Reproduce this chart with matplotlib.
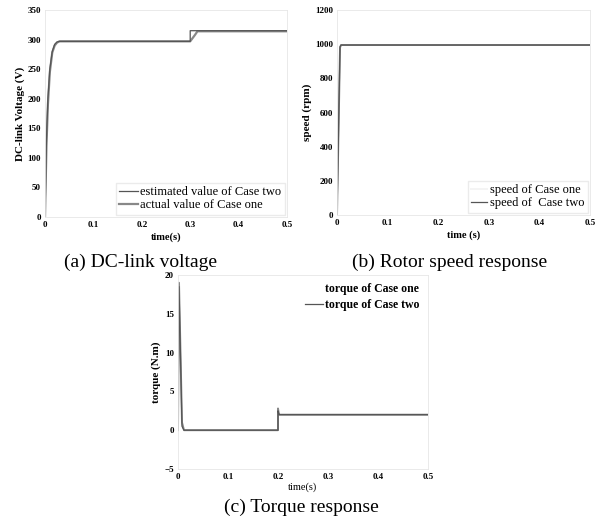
import matplotlib
matplotlib.use("Agg")
import matplotlib.pyplot as plt

plt.rcParams['font.family'] = ['Liberation Serif', 'DejaVu Serif']

# (a) DC-link voltage
t_v_est = [0, 0.003, 0.006, 0.01, 0.015, 0.02, 0.025, 0.03, 0.3, 0.3, 0.5]
v_est = [0, 130, 200, 250, 280, 292, 296, 297, 297, 315, 315]
t_v_act = [0, 0.003, 0.006, 0.01, 0.015, 0.02, 0.025, 0.03, 0.3, 0.31, 0.315, 0.5]
v_act = [0, 120, 190, 245, 278, 290, 295, 297, 297, 308, 314, 314]

# (b) rotor speed
t_s1 = [0, 0.006, 0.008, 0.5]
s1 = [0, 980, 995, 995]
t_s2 = [0, 0.006, 0.008, 0.5]
s2 = [0, 985, 995, 995]

# (c) torque
t_q1 = [0, 0.002, 0.008, 0.012, 0.2, 0.2, 0.202, 0.204, 0.5]
q1 = [0, 19, 1, 0, 0, 2.8, 2.0, 2.0, 2.0]
t_q2 = [0, 0.002, 0.008, 0.012, 0.2, 0.2, 0.202, 0.204, 0.5]
q2 = [0, 18.5, 0.5, 0, 0, 2.5, 2.0, 2.0, 2.0]

W, H = 601, 521
fig = plt.figure(figsize=(W / 100, H / 100), dpi=100)


def ax_px(l, r, t, b):
    return fig.add_axes([l / W, 1 - b / H, (r - l) / W, (b - t) / H])


def style(ax):
    for s in ax.spines.values():
        s.set_color('#e6e6e6')
        s.set_linewidth(0.6)
    ax.tick_params(length=0, labelsize=6.5, pad=3)
    for lab in ax.get_xticklabels() + ax.get_yticklabels():
        lab.set_fontweight('bold')


lc = '#555555'
lc2 = '#888888'

# panel a
ax1 = ax_px(45, 287, 10, 217)
ax1.plot(t_v_act, v_act, color=lc2, lw=1.6, label='actual value of Case one')
ax1.plot(t_v_est, v_est, color=lc, lw=0.9, label='estimated value of Case two')
ax1.set_xlim(0, 0.5)
ax1.set_ylim(0, 350)
ax1.set_xticks([0, 0.1, 0.2, 0.3, 0.4, 0.5])
ax1.set_xticklabels(['0', '0.1', '0.2', '0.3', '0.4', '0.5'])
ax1.set_yticks([0, 50, 100, 150, 200, 250, 300, 350])
ax1.set_ylabel('DC-link Voltage (V)', fontsize=8, fontweight='bold', labelpad=2)
ax1.set_xlabel('time(s)', fontsize=7.5, fontweight='bold', labelpad=2)
h, l = ax1.get_legend_handles_labels()
leg = ax1.legend(h[::-1], l[::-1], loc='lower right', fontsize=9, frameon=True,
                 handlelength=1.5, handletextpad=0.2, borderpad=0.25,
                 labelspacing=0.1, fancybox=False, borderaxespad=0.2)
leg.get_frame().set_edgecolor('#e6e6e6')
style(ax1)

# panel b
ax2 = ax_px(337, 590, 10, 215)
ax2.plot(t_s1, s1, color=lc2, lw=1.4, label='speed of Case one')
ax2.plot(t_s2, s2, color=lc, lw=0.9, label='speed of  Case two')
ax2.set_xlim(0, 0.5)
ax2.set_ylim(0, 1200)
ax2.set_xticks([0, 0.1, 0.2, 0.3, 0.4, 0.5])
ax2.set_xticklabels(['0', '0.1', '0.2', '0.3', '0.4', '0.5'])
ax2.set_yticks([0, 200, 400, 600, 800, 1000, 1200])
ax2.set_ylabel('speed (rpm)', fontsize=8, fontweight='bold', labelpad=2)
ax2.set_xlabel('time (s)', fontsize=7.5, fontweight='bold', labelpad=2)
leg = ax2.legend(loc='lower right', fontsize=9, frameon=True,
                 handlelength=1.3, handletextpad=0.2, borderpad=0.25,
                 labelspacing=0.1, fancybox=False, borderaxespad=0.2)
leg.get_frame().set_edgecolor('#e6e6e6')
leg.get_lines()[0].set_color('#f4f4f4')
style(ax2)

# panel c
ax3 = ax_px(178, 428, 275, 469)
ax3.plot(t_q1, q1, color=lc2, lw=1.4, label='torque of Case one')
ax3.plot(t_q2, q2, color=lc, lw=0.9, label='torque of Case two')
ax3.set_xlim(0, 0.5)
ax3.set_ylim(-5, 20)
ax3.set_xticks([0, 0.1, 0.2, 0.3, 0.4, 0.5])
ax3.set_xticklabels(['0', '0.1', '0.2', '0.3', '0.4', '0.5'])
ax3.set_yticks([-5, 0, 5, 10, 15, 20])
ax3.set_ylabel('torque (N.m)', fontsize=8, fontweight='bold', labelpad=2)
ax3.set_xlabel('time(s)', fontsize=7.5, labelpad=1)
leg = ax3.legend(loc='upper right', fontsize=8.5, frameon=False,
                 handlelength=1.5, handletextpad=0.2, borderpad=0.4,
                 labelspacing=0.35, borderaxespad=0.3)
leg.get_lines()[0].set_color('#ffffff')
for t in leg.get_texts():
    t.set_fontweight('bold')
style(ax3)

fig.text(140 / W, 1 - 262 / H, '(a) DC-link voltage', fontsize=14, ha='center', va='center')
fig.text(450 / W, 1 - 262 / H, '(b) Rotor speed response', fontsize=14, ha='center', va='center')
fig.text(301 / W, 1 - 507 / H, '(c) Torque response', fontsize=14, ha='center', va='center')

fig.savefig('out.png', dpi=100)
